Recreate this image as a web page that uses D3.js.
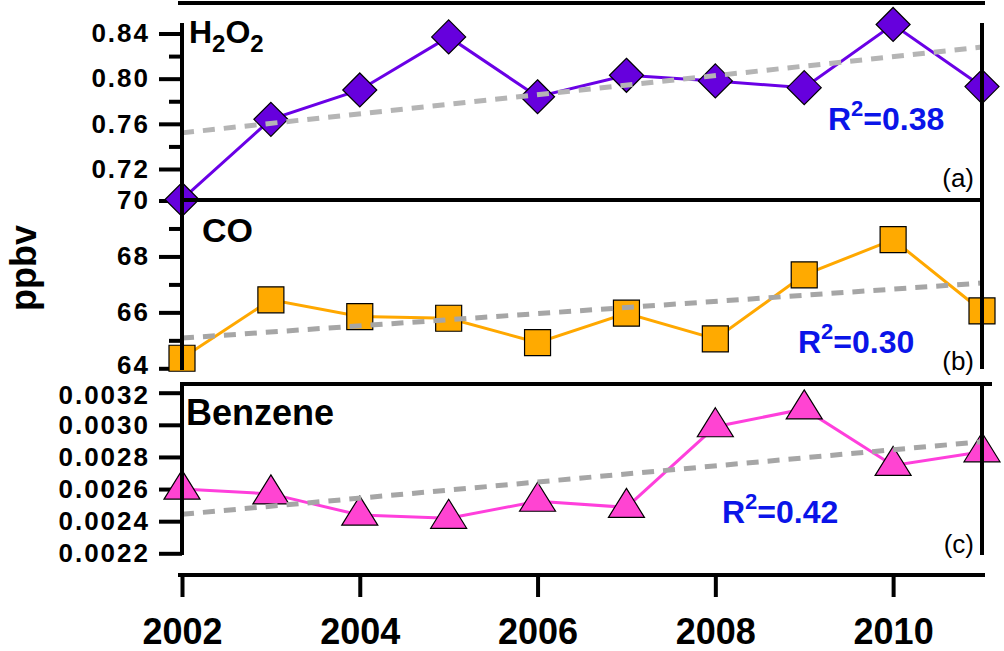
<!DOCTYPE html>
<html>
<head>
<meta charset="utf-8">
<script src="https://cdn.jsdelivr.net/npm/d3@7"></script>
<style>
  body { margin: 0; background: #fff; }
  svg { display: block; font-family: "Liberation Sans", Arial, sans-serif; }
</style>
</head>
<body>
<div id="chart"></div>
<script>
// Donnees
const years = [2002, 2003, 2004, 2005, 2006, 2007, 2008, 2009, 2010, 2011];
const h2o2 = [0.693, 0.764, 0.790, 0.837, 0.784, 0.803, 0.798, 0.792, 0.848, 0.793];
const co = [64.36, 66.45, 65.85, 65.79, 64.92, 65.97, 65.05, 67.34, 68.60, 66.05];
const benzene = [0.00260, 0.00257, 0.002438, 0.002418, 0.002524, 0.002486, 0.002988, 0.003099, 0.002747, 0.002832];

// tendances lineaires (debut 2002, fin 2011)
const h2o2Trend = [0.752, 0.828];
const coTrend = [65.08, 67.05];
const benzeneTrend = [0.002443, 0.002895];
const r2Labels = ["0.38", "0.30", "0.42"];

// graduations
const xTicks = [2002, 2004, 2006, 2008, 2010];
const h2o2Major = [0.72, 0.76, 0.80, 0.84], h2o2Minor = [0.74, 0.78, 0.82];
const coMajor = [64, 66, 68, 70], coMinor = [65, 67, 69];
const benzeneTicks = [0.0022, 0.0024, 0.0026, 0.0028, 0.0030, 0.0032];

const width = 1004, height = 651;
const svg = d3.select("#chart").append("svg")
    .attr("width", width).attr("height", height);

// Echelles
const x = d3.scaleLinear().domain([2002, 2011]).range([182, 982]);
const yA = d3.scaleLinear().domain([0.72, 0.84]).range([169, 33.5]);
const yB = d3.scaleLinear().domain([64, 70]).range([368.3, 200.5]);
const yC = d3.scaleLinear().domain([0.0022, 0.0032]).range([553.3, 392.7]);

// Axes Y
function yAxis(scale, major, minor, fmt) {
  const g = svg.append("g").attr("transform", "translate(182,0)");
  g.call(d3.axisLeft(scale).tickValues(major).tickSize(23).tickPadding(9).tickFormat(fmt));
  if (minor.length) {
    const m = svg.append("g").attr("transform", "translate(182,0)");
    m.call(d3.axisLeft(scale).tickValues(minor).tickSize(13).tickFormat(""));
    m.select(".domain").remove();
    m.selectAll("line").attr("stroke", "#000").attr("stroke-width", 4);
  }
  g.select(".domain").remove();
  g.selectAll("line").attr("stroke", "#000").attr("stroke-width", 4);
  g.selectAll("text")
      .attr("fill", "#000")
      .style("font-size", "26px")
      .style("font-weight", "bold")
      .style("letter-spacing", "2px");
  return g;
}
yAxis(yA, h2o2Major, h2o2Minor, d3.format(".2f"));
const axB = yAxis(yB, coMajor, coMinor, d3.format("d"));
const axC = yAxis(yC, benzeneTicks, [], d3.format(".4f"));
// petit decalage pour que "64" et "0.0032" ne se chevauchent pas
axB.selectAll(".tick text").filter(d => d === 64).attr("y", -3);
axC.selectAll(".tick text").filter(d => d === 0.0032).attr("y", 2);

// Axe X
const gx = svg.append("g").attr("transform", "translate(0,575)");
gx.call(d3.axisBottom(x).tickValues(xTicks).tickSize(22).tickPadding(21).tickFormat(d3.format("d")));
gx.select(".domain").remove();
gx.selectAll("line").attr("stroke", "#000").attr("stroke-width", 4);
gx.selectAll("text")
    .attr("fill", "#000")
    .style("font-size", "36px")
    .style("font-weight", "bold");

// Courbes
const marker = {
  diamond: "M0,-17L17,0L0,17L-17,0Z",
  square: "M-13,-13H13V13H-13Z",
  triangle: "M0,-19L18,10L-18,10Z"
};

function series(values, y, lineColor, fillColor, shape, trend, trendColor) {
  const pts = years.map((d, i) => ({year: d, value: values[i]}));
  svg.append("path")
      .datum(pts)
      .attr("fill", "none")
      .attr("stroke", lineColor)
      .attr("stroke-width", 3)
      .attr("d", d3.line().x(d => x(d.year)).y(d => y(d.value)));
  svg.selectAll(null)
      .data(pts)
      .enter().append("path")
      .attr("d", marker[shape])
      .attr("transform", d => `translate(${x(d.year)},${y(d.value)})`)
      .attr("fill", fillColor)
      .attr("stroke", "#000")
      .attr("stroke-width", 1.2);
  svg.append("line")
      .attr("x1", x(years[0])).attr("y1", y(trend[0]))
      .attr("x2", x(years[years.length - 1])).attr("y2", y(trend[1]))
      .attr("stroke", trendColor)
      .attr("stroke-width", 5)
      .attr("stroke-dasharray", "12,9");
}
series(h2o2, yA, "#6a00e6", "#6600dd", "diamond", h2o2Trend, "#b5b5b5");
series(co, yB, "#ffa800", "#ffaa00", "square", coTrend, "#a6a6a6");
series(benzene, yC, "#ff3fdc", "#ff44d2", "triangle", benzeneTrend, "#a6a6a6");

// Cadres et axes
const frame = [
  [180, 3, 983, 3],
  [182, 25, 182, 200],
  [182, 200, 182, 368],
  [982, 25, 982, 367],
  [182, 200, 982, 200],
  [182, 384, 990, 384],
  [182, 384, 182, 553],
  [982, 384, 982, 553],
  [180, 575, 983, 575]
];
svg.append("g").selectAll("line")
    .data(frame).enter().append("line")
    .attr("x1", d => d[0]).attr("y1", d => d[1])
    .attr("x2", d => d[2]).attr("y2", d => d[3])
    .attr("stroke", "#000").attr("stroke-width", 4)
    .attr("stroke-linecap", "square");

// Titres des panneaux
const t1 = svg.append("text").attr("x", 189).attr("y", 43)
    .style("font-size", "32px").style("font-weight", "bold");
t1.append("tspan").text("H");
t1.append("tspan").attr("dy", 9).style("font-size", "24px").text("2");
t1.append("tspan").attr("dy", -9).text("O");
t1.append("tspan").attr("dy", 9).style("font-size", "24px").text("2");

svg.append("text").attr("x", 202).attr("y", 242)
    .style("font-size", "34px").style("font-weight", "bold").text("CO");
svg.append("text").attr("x", 186).attr("y", 425)
    .style("font-size", "36px").style("font-weight", "bold").text("Benzene");

// R2
const r2Pos = [[828, 130], [798, 353], [722, 523]];
r2Pos.forEach((p, i) => {
  const t = svg.append("text").attr("x", p[0]).attr("y", p[1])
      .attr("fill", "#0a14e8")
      .style("font-size", "32px").style("font-weight", "bold");
  t.append("tspan").text("R");
  t.append("tspan").attr("dy", -14).style("font-size", "22px").text("2");
  t.append("tspan").attr("dy", 14).text("=" + r2Labels[i]);
});

// (a) (b) (c)
const panelLabels = [["(a)", 187], ["(b)", 370], ["(c)", 553]];
svg.selectAll(null).data(panelLabels).enter().append("text")
    .attr("x", 974).attr("y", d => d[1])
    .attr("text-anchor", "end")
    .style("font-size", "26px")
    .text(d => d[0]);

// Titre axe Y
svg.append("text")
    .attr("transform", "translate(36,268) rotate(-90)")
    .attr("text-anchor", "middle")
    .style("font-size", "36px").style("font-weight", "bold")
    .text("ppbv");
</script>
</body>
</html>
